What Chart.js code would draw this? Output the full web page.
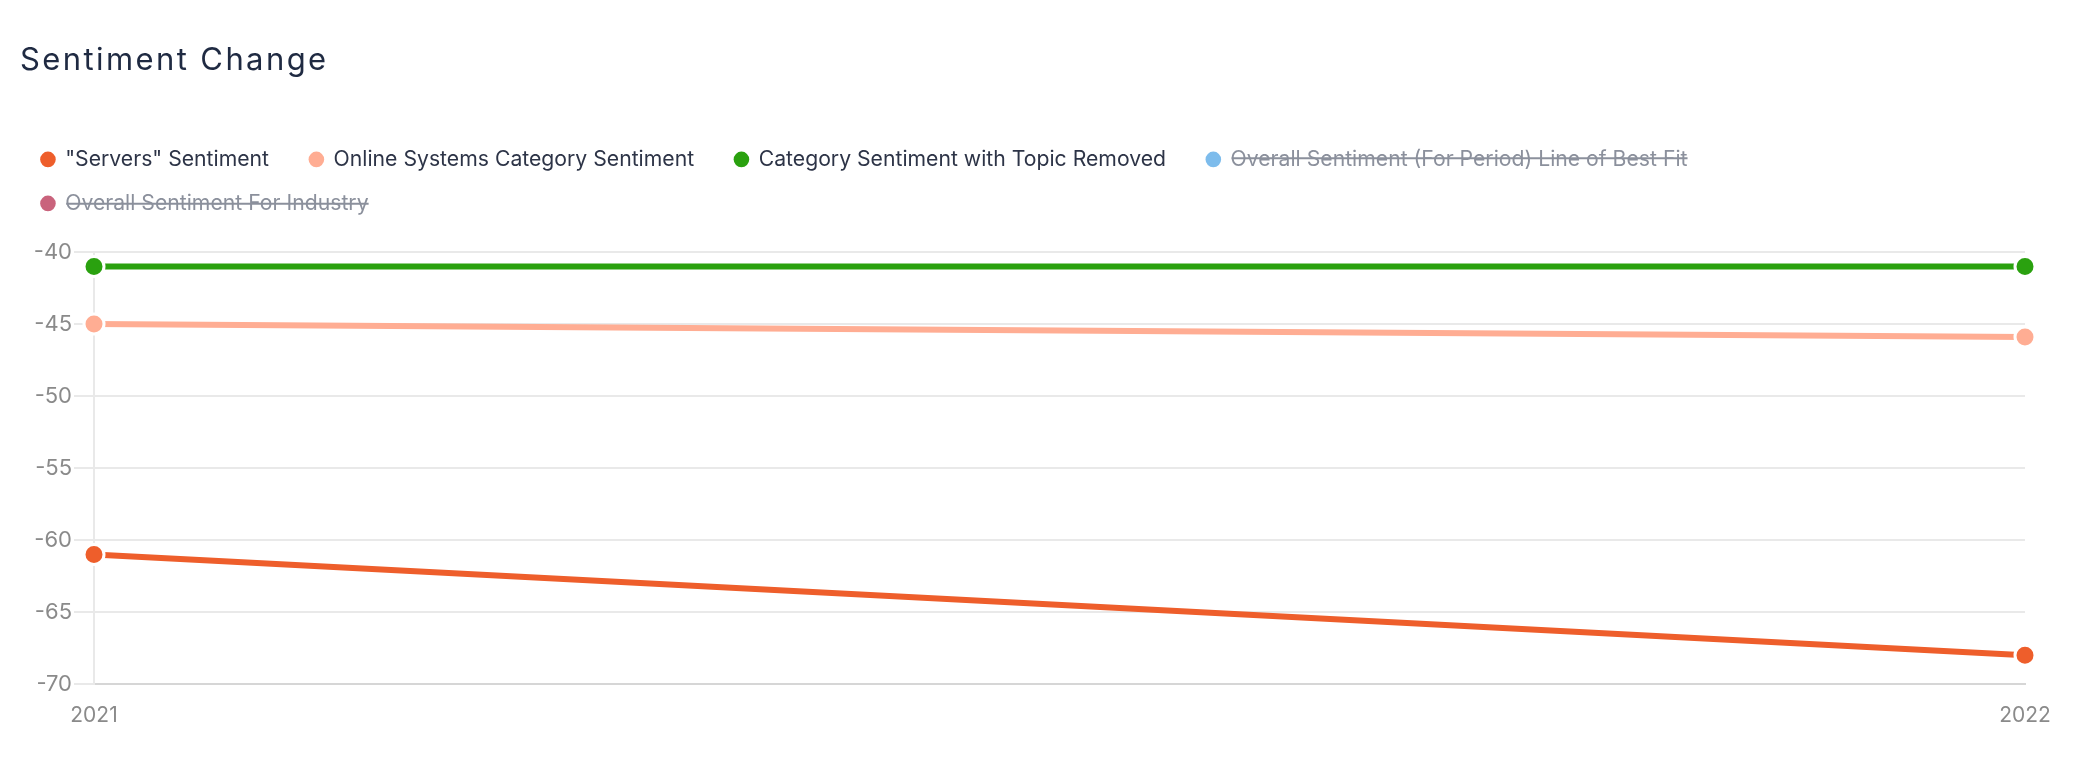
<!DOCTYPE html>
<html lang="en">
<head>
  <meta charset="UTF-8" />
  <title>Sentiment Change</title>
  <style>
    * {
      margin: 0;
      padding: 0;
      box-sizing: border-box;
    }

    body {
      background: #fff;
      font-family: Inter, "Open Sans", sans-serif;
    }

    .card {
      position: relative;
      width: 2080px;
      height: 782px;
    }

    /* heading sits above the canvas */
    .card h2 {
      position: absolute;
      left: 20px;
      top: 44px;
      font-size: 31px;
      line-height: 30px;
      letter-spacing: 2.4px;
      font-weight: 400;
      color: #1f2a42;
      z-index: 2;
    }

    .chart-box {
      position: absolute;
      left: 0;
      top: 0;
      width: 2080px;
      height: 782px;
    }
  </style>
</head>
<body>
  <div class="card">
    <h2>Sentiment Change</h2>
    <div class="chart-box">
      <canvas id="sentimentChart"></canvas>
    </div>
  </div>

  <script src="https://cdn.jsdelivr.net/npm/chart.js"></script>
  <script>
    // data
    const years = ['2021', '2022'];
    const serversSentiment = [-61, -68];
    const categorySentiment = [-45, -45.9];
    const topicRemovedSentiment = [-41, -41];
    // these two are switched off in the legend, nothing is drawn for them
    const bestFitSentiment = [null, null];
    const industrySentiment = [null, null];
    const yTicks = [-70, -65, -60, -55, -50, -45, -40];

    Chart.defaults.font.family = 'Inter, "Open Sans", sans-serif';

    function lineSet(label, values, color, hidden) {
      return {
        label: label,
        data: values,
        borderColor: color,
        backgroundColor: color,
        pointBackgroundColor: color,
        pointBorderColor: '#ffffff',
        pointBorderWidth: 3,
        pointRadius: 10,
        pointHoverRadius: 10,
        borderWidth: 6,
        tension: 0,
        clip: false,
        hidden: hidden
      };
    }

    // legend is a bit taller than Chart.js makes it
    const legendSpacer = {
      id: 'legendSpacer',
      beforeInit(chart) {
        const fit = chart.legend.fit;
        chart.legend.fit = function () {
          fit.bind(chart.legend)();
          this.height += 28;
        };
      }
    };

    const ctx = document.getElementById('sentimentChart').getContext('2d');
    const sentimentChart = new Chart(ctx, {
      type: 'line',
      data: {
        labels: years,
        datasets: [
          lineSet('"Servers" Sentiment', serversSentiment, '#ee5e2b', false),
          lineSet('Online Systems Category Sentiment', categorySentiment, '#ffad93', false),
          lineSet('Category Sentiment with Topic Removed', topicRemovedSentiment, '#2aa10f', false),
          lineSet('Overall Sentiment (For Period) Line of Best Fit', bestFitSentiment, '#7dbcec', true),
          lineSet('Overall Sentiment For Industry', industrySentiment, '#c9637c', true)
        ]
      },
      options: {
        responsive: true,
        maintainAspectRatio: false,
        animation: false,
        layout: {
          padding: { top: 126, left: 18.5, right: 55, bottom: 0 }
        },
        plugins: {
          tooltip: { enabled: false },
          legend: {
            position: 'top',
            align: 'start',
            labels: {
              usePointStyle: true,
              pointStyle: 'circle',
              boxWidth: 13.3,
              boxHeight: 11,
              padding: 22.8,
              color: '#2d3447',
              font: { size: 21.2 },
              generateLabels(chart) {
                const items = Chart.defaults.plugins.legend.labels.generateLabels(chart);
                items.forEach(item => {
                  item.lineWidth = 0;
                  item.strokeStyle = item.fillStyle;
                  item.fontColor = item.hidden ? '#8b909c' : '#2d3447';
                  if (!item.hidden) item.text += '   ';
                });
                return items;
              }
            }
          }
        },
        scales: {
          x: {
            grid: { display: false, drawTicks: false },
            border: { display: true, color: '#d6d6d6', width: 2 },
            ticks: {
              color: '#8a8a8a',
              font: { size: 21 },
              padding: 19,
              maxRotation: 0
            },
            afterFit(scale) {
              scale.height = 98;
            }
          },
          y: {
            min: -70,
            max: -40,
            grid: {
              color: '#e9e9e9',
              lineWidth: 2,
              tickLength: 20
            },
            border: { display: true, color: '#e9e9e9', width: 2 },
            afterBuildTicks(scale) {
              scale.ticks = yTicks.map(v => ({ value: v }));
            },
            ticks: {
              color: '#8a8a8a',
              font: { size: 22 },
              padding: 2
            },
            afterFit(scale) {
              scale.width = 75.5;
            }
          }
        }
      },
      plugins: [legendSpacer]
    });
  </script>
</body>
</html>
